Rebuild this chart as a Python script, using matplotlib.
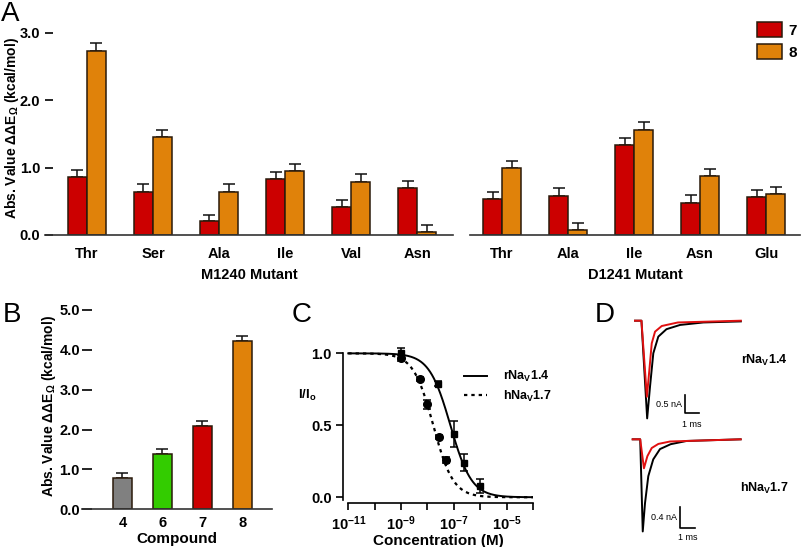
import numpy as np
import matplotlib
matplotlib.use("Agg")
import matplotlib.pyplot as plt
from matplotlib.patches import Patch
from matplotlib.lines import Line2D

plt.rcParams["font.family"] = ["Liberation Sans", "DejaVu Sans"]
plt.rcParams["mathtext.fontset"] = "custom"
plt.rcParams["mathtext.rm"] = "Liberation Sans"
plt.rcParams["mathtext.bf"] = "Liberation Sans:bold"
plt.rcParams["mathtext.it"] = "Liberation Sans:italic"

# Panel A: M1240 / D1241 mutants, compounds 7 and 8
m1240_labels = ["Thr", "Ser", "Ala", "Ile", "Val", "Asn"]
m1240_cpd7 = [0.86, 0.64, 0.21, 0.83, 0.41, 0.69]
m1240_cpd7_err = [0.11, 0.11, 0.09, 0.11, 0.11, 0.11]
m1240_cpd8 = [2.73, 1.45, 0.64, 0.95, 0.79, 0.05]
m1240_cpd8_err = [0.11, 0.10, 0.11, 0.11, 0.11, 0.10]

d1241_labels = ["Thr", "Ala", "Ile", "Asn", "Glu"]
d1241_cpd7 = [0.53, 0.58, 1.34, 0.48, 0.56]
d1241_cpd7_err = [0.11, 0.11, 0.10, 0.11, 0.10]
d1241_cpd8 = [0.99, 0.07, 1.55, 0.87, 0.61]
d1241_cpd8_err = [0.11, 0.11, 0.12, 0.11, 0.10]

# Panel B: compounds
compounds = ["4", "6", "7", "8"]
compound_vals = [0.79, 1.39, 2.10, 4.21]
compound_err = [0.13, 0.12, 0.11, 0.13]

# Panel C: dose response
r14_conc = [1e-9, 10**-7.6, 1e-7, 10**-6.6, 1e-6]
r14_resp = [1.00, 0.79, 0.44, 0.24, 0.08]
r14_err = [0.04, 0.015, 0.09, 0.06, 0.05]
h17_conc = [1e-9, 10**-8.3, 1e-8, 10**-7.58, 10**-7.28]
h17_resp = [0.97, 0.82, 0.645, 0.42, 0.26]
h17_err = [0.02, 0.015, 0.03, 0.015, 0.02]
r14_ic50, r14_hill = 10**-7.13, 1.08
h17_ic50, h17_hill = 10**-7.78, 1.15

# Panel D: current traces (ms, nA), black = control, red = with toxin
r14_ctrl_t = [0, 0.45, 0.85, 1.05, 1.28, 1.63, 2.2, 3.15, 4.78, 7.4]
r14_ctrl_i = [0, 0, -2.76, -1.86, -0.92, -0.45, -0.24, -0.12, -0.05, -0.02]
r14_tox_t = [0, 0.45, 0.83, 1.0, 1.17, 1.4, 1.87, 3.0, 7.4]
r14_tox_i = [0, 0, -2.15, -1.41, -0.64, -0.31, -0.15, -0.05, 0]
h17_ctrl_t = [0, 0.5, 0.67, 0.82, 1.04, 1.37, 1.82, 2.53, 3.6, 7.2]
h17_ctrl_i = [0, 0, -1.70, -1.18, -0.68, -0.37, -0.18, -0.09, -0.03, 0]
h17_tox_t = [0, 0.5, 0.75, 0.98, 1.27, 1.71, 2.49, 7.2]
h17_tox_i = [0, 0, -0.535, -0.31, -0.16, -0.085, -0.04, 0]

RED = "#cc0000"
ORANGE = "#e0820a"
GREEN = "#33cc00"
GRAY = "#808080"
EDGE = "#2a1a0a"
W, H = 802, 547


def box(x0, y0, x1, y1):
    # pixel box -> figure fraction [l, b, w, h]
    return [x0 / W, 1 - y1 / H, (x1 - x0) / W, (y1 - y0) / H]


def style_bar_axes(ax, ylabels=True):
    for s in ["top", "right", "left"]:
        ax.spines[s].set_visible(False)
    ax.spines["bottom"].set_linewidth(1.2)
    ax.spines["bottom"].set_color("#333333")
    ax.tick_params(axis="x", length=0, pad=9)
    if ylabels:
        ax.tick_params(axis="y", direction="in", length=6, width=1.2, pad=3.5)
    else:
        ax.tick_params(axis="y", left=False, labelleft=False)
    for lab in ax.get_xticklabels() + ax.get_yticklabels():
        lab.set_fontweight("bold")
        lab.set_fontsize(10.5)


def grouped(ax, labels, v7, e7, v8, e8, w):
    x = np.arange(len(labels))
    for off, vals, errs, col in [(-w / 2, v7, e7, RED), (w / 2, v8, e8, ORANGE)]:
        ax.bar(x + off, vals, w, color=col, edgecolor=EDGE, linewidth=1.1, zorder=2)
        ax.errorbar(x + off, vals, yerr=[np.zeros(len(vals)), errs], fmt="none",
                    ecolor="#111111", elinewidth=1.1, capsize=4, capthick=1.1, zorder=1)
    ax.set_xticks(x)
    ax.set_xticklabels(labels)


fig = plt.figure(figsize=(8.02, 5.47), dpi=100)

# ---- Panel A
bw = 19 / 66
axA1 = fig.add_axes(box(45, 32.7, 453, 235))
grouped(axA1, m1240_labels, m1240_cpd7, m1240_cpd7_err, m1240_cpd8, m1240_cpd8_err, bw)
axA1.set_xlim(-0.636, 5.545)
axA1.set_ylim(0, 3.0)
axA1.set_yticks([0, 1, 2, 3])
axA1.set_yticklabels(["0.0", "1.0", "2.0", "3.0"])
style_bar_axes(axA1)
axA1.set_xlabel("M1240 Mutant", fontsize=10.5, fontweight="bold", labelpad=5)
axA1.set_ylabel(r"Abs. Value ΔΔE$_\mathbf{Ω}$ (kcal/mol)", fontsize=10, fontweight="bold")
axA1.yaxis.set_label_coords(-0.06, 0.53)

axA2 = fig.add_axes(box(470, 32.7, 800, 235))
grouped(axA2, d1241_labels, d1241_cpd7, d1241_cpd7_err, d1241_cpd8, d1241_cpd8_err, bw)
axA2.set_xlim(-0.485, 4.515)
axA2.set_ylim(0, 3.0)
style_bar_axes(axA2, ylabels=False)
axA2.set_xlabel("D1241 Mutant", fontsize=10.5, fontweight="bold", labelpad=5)

fig.legend(handles=[Patch(facecolor=RED, edgecolor=EDGE, linewidth=1.1),
                    Patch(facecolor=ORANGE, edgecolor=EDGE, linewidth=1.1)],
           labels=["7", "8"], loc="upper left", bbox_to_anchor=(757 / W, 1 - 22 / H),
           frameon=False, borderpad=0, borderaxespad=0, handlelength=1.65,
           handleheight=1.1, handletextpad=0.4, labelspacing=0.45,
           prop={"weight": "bold", "size": 11})

# ---- Panel B
axB = fig.add_axes(box(82, 310, 272, 509.3))
xb = np.arange(len(compounds))
axB.bar(xb, compound_vals, 19 / 40, color=[GRAY, GREEN, RED, ORANGE],
        edgecolor=EDGE, linewidth=1.1, zorder=2)
axB.errorbar(xb, compound_vals, yerr=[np.zeros(len(xb)), compound_err], fmt="none",
             ecolor="#111111", elinewidth=1.1, capsize=4, capthick=1.1, zorder=1)
axB.set_xticks(xb)
axB.set_xticklabels(compounds)
axB.set_xlim(-1.01, 3.74)
axB.set_ylim(0, 5.0)
axB.set_yticks([0, 1, 2, 3, 4, 5])
axB.set_yticklabels(["0.0", "1.0", "2.0", "3.0", "4.0", "5.0"])
style_bar_axes(axB)
axB.tick_params(axis="y", length=7, pad=1.5)
axB.tick_params(axis="x", pad=5)
axB.set_xlabel("Compound", fontsize=11, fontweight="bold", labelpad=1)
axB.set_ylabel(r"Abs. Value ΔΔE$_\mathbf{Ω}$ (kcal/mol)", fontsize=10, fontweight="bold")
axB.yaxis.set_label_coords(-0.125, 0.518)

# ---- Panel C
def hill(conc, ic50, n):
    return 1.0 / (1.0 + (conc / ic50) ** n)

axC = fig.add_axes(box(343, 344.7, 533, 503.3))
conc_fit = np.logspace(-11, -4, 400)
axC.plot(conc_fit, hill(conc_fit, r14_ic50, r14_hill), color="black", lw=1.4, zorder=2)
axC.plot(conc_fit, hill(conc_fit, h17_ic50, h17_hill), color="black", lw=1.6,
         ls=(0, (1.5, 1.8)), zorder=2)
axC.errorbar(r14_conc, r14_resp, yerr=r14_err, fmt="s", color="black", ms=5,
             elinewidth=1.1, capsize=3, capthick=1.1, zorder=3)
axC.errorbar(h17_conc, h17_resp, yerr=h17_err, fmt="o", color="black", ms=5.5,
             elinewidth=1.1, capsize=3, capthick=1.1, zorder=3)
axC.set_xscale("log")
axC.set_xlim(10**-11.2, 1e-4)
axC.set_ylim(-0.042, 1.06)
axC.spines["top"].set_visible(False)
axC.spines["right"].set_visible(False)
axC.spines["left"].set_bounds(-0.02, 1.0)
axC.spines["bottom"].set_bounds(1e-11, 1e-4)
for s in ["left", "bottom"]:
    axC.spines[s].set_linewidth(1.2)
decades = [10.0**k for k in range(-11, -3)]
axC.set_xticks(decades)
axC.set_xticklabels([r"$\mathbf{10^{%d}}$" % k if k in (-11, -9, -7, -5) else ""
                     for k in range(-11, -3)])
axC.xaxis.set_minor_locator(matplotlib.ticker.NullLocator())
axC.set_yticks([0, 0.5, 1.0])
axC.set_yticklabels(["0.0", "0.5", "1.0"])
axC.tick_params(axis="both", direction="out", length=5, width=1.2, labelsize=10.5)
axC.tick_params(axis="y", pad=3)
axC.tick_params(axis="x", pad=3)
for lab in axC.get_yticklabels():
    lab.set_fontweight("bold")
axC.set_xlabel("Concentration (M)", fontsize=11, fontweight="bold", labelpad=1)
fig.text(298 / W, 1 - 395 / H, r"I/I$_\mathbf{o}$", fontsize=9.5, fontweight="bold",
         ha="left", va="center")
axC.legend(handles=[Line2D([], [], color="black", lw=1.4),
                    Line2D([], [], color="black", lw=1.6, ls=(0, (1.5, 1.8)))],
           labels=[r"rNa$_\mathbf{V}$1.4", r"hNa$_\mathbf{V}$1.7"],
           loc="upper left", bbox_to_anchor=(458 / W, 1 - 363 / H),
           bbox_transform=fig.transFigure, frameon=False, borderpad=0,
           handlelength=1.8, handletextpad=1.3, labelspacing=0.35,
           prop={"weight": "bold", "size": 9})

# ---- Panel D
axD1 = fig.add_axes(box(630, 310, 760, 430))
axD1.plot(r14_ctrl_t, r14_ctrl_i, color="black", lw=1.4)
axD1.plot(r14_tox_t, r14_tox_i, color="#e01010", lw=1.4)
axD1.plot([3.5, 3.5, 4.5], [-2.10, -2.60, -2.60], color="black", lw=1.2)
axD1.text(3.3, -2.38, "0.5 nA", fontsize=6.5, ha="right", va="center")
axD1.text(4.0, -2.80, "1 ms", fontsize=6.5, ha="center", va="top")
axD1.set_xlim(-0.35, 8.74)
axD1.set_ylim(-3.088, 0.302)
axD1.axis("off")

axD2 = fig.add_axes(box(630, 430, 760, 545))
axD2.plot(h17_ctrl_t, h17_ctrl_i, color="black", lw=1.4)
axD2.plot(h17_tox_t, h17_tox_i, color="#e01010", lw=1.4)
axD2.plot([3.15, 3.15, 4.15], [-1.243, -1.642, -1.642], color="black", lw=1.2)
axD2.text(2.95, -1.45, "0.4 nA", fontsize=6.5, ha="right", va="center")
axD2.text(3.65, -1.72, "1 ms", fontsize=6.5, ha="center", va="top")
axD2.set_xlim(-0.18, 8.49)
axD2.set_ylim(-1.950, 0.172)
axD2.axis("off")

fig.text(741 / W, 1 - 360 / H, r"rNa$_\mathbf{V}$1.4", fontsize=9, fontweight="bold",
         ha="left", va="center")
fig.text(740 / W, 1 - 488 / H, r"hNa$_\mathbf{V}$1.7", fontsize=9, fontweight="bold",
         ha="left", va="center")

# panel letters
for letter, px, py in [("A", 1, 21), ("B", 3, 321.7), ("C", 292, 321.7), ("D", 595, 321.7)]:
    fig.text(px / W, 1 - py / H, letter, fontsize=20, ha="left", va="baseline")

fig.savefig("out.png", dpi=100)
